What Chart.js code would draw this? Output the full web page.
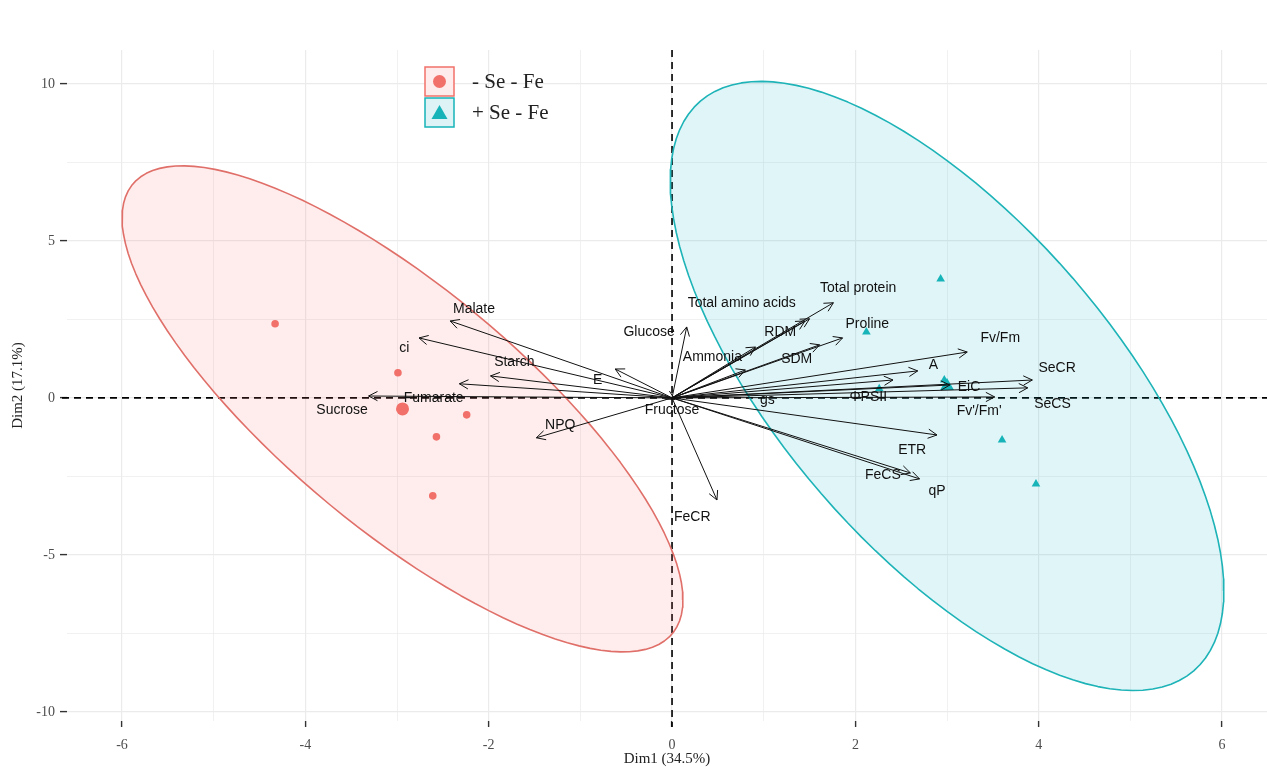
<!DOCTYPE html>
<html lang="en">
<head>
<meta charset="UTF-8">
<title>PCA biplot</title>
<style>
  body { margin: 0; background: #fff; }
  #wrap { width: 1267px; height: 769px; }
</style>
</head>
<body>
<div id="wrap"><canvas id="pcaChart" width="1267" height="769"></canvas></div>
<script src="https://cdn.jsdelivr.net/npm/chart.js"></script>
<script>
// groups
const groupNames = ['- Se - Fe', '+ Se - Fe'];

// individuals, Dim1 / Dim2
const minusSeDim1 = [-4.33, -2.99, -2.24, -2.57, -2.61];
const minusSeDim2 = [2.36, 0.80, -0.54, -1.24, -3.12];
const plusSeDim1 = [2.93, 2.12, 2.26, 2.97, 3.60, 3.97];
const plusSeDim2 = [3.79, 2.10, 0.29, 0.57, -1.34, -2.74];

// group centres
const meanDim1 = [-2.94, 3.00];
const meanDim2 = [-0.35, 0.38];

// concentration ellipses: [sxx, sxy, syy]
const ellipseCov = [[9.36, -18.6, 59.9], [9.12, -19.7, 94.1]];

// variable arrows
const variables = ['Malate', 'ci', 'Starch', 'Fumarate', 'Sucrose', 'E', 'NPQ', 'Glucose', 'Fructose',
  'Total amino acids', 'Total protein', 'RDM', 'Proline', 'Ammonia', 'SDM', 'Fv/Fm', 'A', 'SeCR',
  'EiC', '\u03A6PSII', 'gs', 'SeCS', "Fv'/Fm'", 'ETR', 'FeCS', 'qP', 'FeCR'];
const varDim1 = [-2.42, -2.76, -1.98, -2.32, -3.31, -0.62, -1.48, 0.16, 0.03,
  1.50, 1.76, 1.45, 1.86, 0.91, 1.61, 3.22, 2.68, 3.93,
  3.03, 2.41, 0.80, 3.88, 3.52, 2.89, 2.60, 2.70, 0.49];
const varDim2 = [2.45, 1.91, 0.70, 0.45, 0.06, 0.92, -1.27, 2.26, -0.05,
  2.52, 3.03, 2.45, 1.91, 1.62, 1.69, 1.46, 0.86, 0.57,
  0.41, 0.57, 0.89, 0.32, 0.03, -1.18, -2.39, -2.58, -3.25];
// where the labels ended up (data units)
const labelDim1 = [-2.16, -2.92, -1.72, -2.60, -3.60, -0.81, -1.22, -0.25, 0.00,
  0.76, 2.03, 1.18, 2.13, 0.44, 1.36, 3.58, 2.85, 4.20,
  3.24, 2.14, 1.04, 4.15, 3.35, 2.62, 2.30, 2.89, 0.22];
const labelDim2 = [2.83, 1.59, 1.15, 0.00, -0.38, 0.57, -0.86, 2.10, -0.38,
  3.03, 3.50, 2.10, 2.36, 1.31, 1.24, 1.91, 1.05, 0.96,
  0.35, 0.03, -0.06, -0.19, -0.41, -1.66, -2.45, -2.96, -3.79];

const xTicks = [-6, -5, -4, -3, -2, -1, 0, 1, 2, 3, 4, 5, 6];
const yTicks = [-10, -7.5, -5, -2.5, 0, 2.5, 5, 7.5, 10];

const red = '#F2706A';
const teal = '#16B4B8';

function ellipsePoints(cx, cy, cov) {
  const l11 = Math.sqrt(cov[0]);
  const l21 = cov[1] / l11;
  const l22 = Math.sqrt(cov[2] - l21 * l21);
  const pts = [];
  for (let i = 0; i <= 121; i++) {
    const t = i / 120 * 2 * Math.PI;
    pts.push({x: cx + l11 * Math.cos(t), y: cy + l21 * Math.cos(t) + l22 * Math.sin(t)});
  }
  return pts;
}

const zip = (xs, ys) => xs.map((v, i) => ({x: v, y: ys[i]}));

const refLines = {
  id: 'refLines',
  beforeDatasetsDraw(chart) {
    const {ctx, chartArea: a, scales: {x, y}} = chart;
    ctx.save();
    ctx.strokeStyle = '#000';
    ctx.lineWidth = 1.6;
    ctx.setLineDash([7, 5]);
    const px = x.getPixelForValue(0), py = y.getPixelForValue(0);
    ctx.beginPath();
    ctx.moveTo(a.left - 5, py); ctx.lineTo(a.right, py);
    ctx.moveTo(px, a.top); ctx.lineTo(px, a.bottom + 6);
    ctx.stroke();
    ctx.restore();
  }
};

const arrows = {
  id: 'arrows',
  afterDatasetsDraw(chart) {
    const {ctx, scales: {x, y}} = chart;
    const ox = x.getPixelForValue(0), oy = y.getPixelForValue(0);
    ctx.save();
    ctx.strokeStyle = '#111';
    ctx.lineWidth = 1;
    variables.forEach((name, i) => {
      const tx = x.getPixelForValue(varDim1[i]), ty = y.getPixelForValue(varDim2[i]);
      const ang = Math.atan2(ty - oy, tx - ox);
      ctx.beginPath();
      ctx.moveTo(ox, oy); ctx.lineTo(tx, ty);
      ctx.moveTo(tx - 10 * Math.cos(ang - 0.48), ty - 10 * Math.sin(ang - 0.48));
      ctx.lineTo(tx, ty);
      ctx.lineTo(tx - 10 * Math.cos(ang + 0.48), ty - 10 * Math.sin(ang + 0.48));
      ctx.stroke();
    });
    ctx.fillStyle = '#111';
    ctx.font = '14px "Liberation Sans", Arial, sans-serif';
    ctx.textAlign = 'center';
    ctx.textBaseline = 'middle';
    variables.forEach((name, i) => {
      ctx.fillText(name, x.getPixelForValue(labelDim1[i]), y.getPixelForValue(labelDim2[i]));
    });
    ctx.restore();
  }
};

const legendBox = {
  id: 'legendBox',
  afterDraw(chart) {
    const {ctx, chartArea: a} = chart;
    const bx = a.left + 358, by = a.top + 17, s = 29;
    ctx.save();
    // - Se
    ctx.fillStyle = '#fdeceb'; ctx.strokeStyle = red; ctx.lineWidth = 1.5;
    ctx.fillRect(bx, by, s, s); ctx.strokeRect(bx, by, s, s);
    ctx.fillStyle = red;
    ctx.beginPath(); ctx.arc(bx + s / 2, by + s / 2, 6.5, 0, 2 * Math.PI); ctx.fill();
    // + Se
    const by2 = by + s + 2;
    ctx.fillStyle = '#def3f5'; ctx.strokeStyle = teal;
    ctx.fillRect(bx, by2, s, s); ctx.strokeRect(bx, by2, s, s);
    ctx.fillStyle = teal;
    ctx.beginPath();
    ctx.moveTo(bx + s / 2, by2 + 7); ctx.lineTo(bx + s / 2 + 8, by2 + 21); ctx.lineTo(bx + s / 2 - 8, by2 + 21);
    ctx.closePath(); ctx.fill();
    ctx.fillStyle = '#222';
    ctx.font = '21px "Liberation Serif", "Times New Roman", serif';
    ctx.textBaseline = 'middle';
    ctx.fillText(groupNames[0], bx + 47, by + s / 2 + 1);
    ctx.fillText(groupNames[1], bx + 47, by2 + s / 2 + 1);
    ctx.restore();
  }
};

const tickFont = {family: '"Liberation Serif", "Times New Roman", serif', size: 14};

new Chart(document.getElementById('pcaChart'), {
  type: 'scatter',
  data: {
    datasets: [
      {label: groupNames[0], data: zip(minusSeDim1, minusSeDim2), pointStyle: 'circle', pointRadius: 3.8,
        backgroundColor: red, borderWidth: 0, order: 1},
      {label: groupNames[1], data: zip(plusSeDim1, plusSeDim2), pointStyle: 'triangle', pointRadius: 5,
        backgroundColor: teal, borderWidth: 0, order: 1},
      {label: 'centre -Se', data: [{x: meanDim1[0], y: meanDim2[0]}], pointStyle: 'circle', pointRadius: 6.5,
        backgroundColor: red, borderWidth: 0, order: 1},
      {label: 'centre +Se', data: [{x: meanDim1[1], y: meanDim2[1]}], pointStyle: 'triangle', pointRadius: 8,
        backgroundColor: teal, borderWidth: 0, order: 1},
      {type: 'line', label: 'ellipse -Se', data: ellipsePoints(meanDim1[0], meanDim2[0], ellipseCov[0]),
        borderColor: '#E06F69', backgroundColor: 'rgba(248,118,109,0.13)', fill: 'shape',
        borderWidth: 1.6, borderJoinStyle: 'round', pointRadius: 0, tension: 0, order: 2},
      {type: 'line', label: 'ellipse +Se', data: ellipsePoints(meanDim1[1], meanDim2[1], ellipseCov[1]),
        borderColor: '#1DB3B7', backgroundColor: 'rgba(0,170,196,0.12)', fill: 'shape',
        borderWidth: 1.6, borderJoinStyle: 'round', pointRadius: 0, tension: 0, order: 2}
    ]
  },
  options: {
    responsive: false,
    animation: false,
    layout: {autoPadding: false, padding: {top: 50, left: 0, right: 0, bottom: 0}},
    plugins: {legend: {display: false}, tooltip: {enabled: false}},
    scales: {
      x: {
        type: 'linear', min: -6.6, max: 6.49,
        afterBuildTicks: s => { s.ticks = xTicks.map(v => ({value: v})); },
        afterFit: s => { s.height = 48; s.paddingLeft = 0; s.paddingRight = 0; },
        border: {display: false},
        grid: {
          color: '#ebebeb',
          lineWidth: c => (c.tick && c.tick.value % 2 === 0 ? 1.2 : 0.7),
          tickColor: c => (c.tick && c.tick.value % 2 === 0 ? '#333' : 'rgba(0,0,0,0)'),
          tickLength: 6, tickWidth: 1.4
        },
        ticks: {
          autoSkip: false, maxRotation: 0, padding: 10, color: '#4d4d4d', font: tickFont,
          callback: v => (v % 2 === 0 ? String(v) : '')
        },
        title: {display: true, text: 'Dim1 (34.5%)', color: '#222',
          font: {family: tickFont.family, size: 15}, padding: {top: 0, bottom: 1}}
      },
      y: {
        type: 'linear', min: -10.29, max: 11.08,
        afterBuildTicks: s => { s.ticks = yTicks.map(v => ({value: v})); },
        afterFit: s => { s.width = 67; s.paddingTop = 0; s.paddingBottom = 0; },
        border: {display: false},
        grid: {
          color: '#ebebeb',
          lineWidth: c => (c.tick && c.tick.value % 5 === 0 ? 1.2 : 0.7),
          tickColor: c => (c.tick && c.tick.value % 5 === 0 ? '#333' : 'rgba(0,0,0,0)'),
          tickLength: 7, tickWidth: 1.4
        },
        ticks: {
          autoSkip: false, padding: 5, color: '#4d4d4d', font: tickFont,
          callback: v => (v % 5 === 0 ? String(v) : '')
        },
        title: {display: true, text: 'Dim2 (17.1%)', color: '#222',
          font: {family: tickFont.family, size: 15}, padding: {top: 9, bottom: 0}}
      }
    }
  },
  plugins: [refLines, arrows, legendBox]
});
</script>
</body>
</html>
